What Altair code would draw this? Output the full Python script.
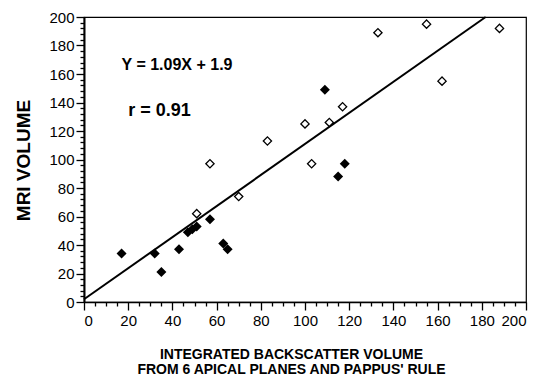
import altair as alt
import pandas as pd

# Data
open_x = [51, 57, 70, 83, 100, 103, 111, 117, 133, 155, 162, 188]
open_y = [62, 97, 74, 113, 125, 97, 126, 137, 189, 195, 155, 192]
filled_x = [17, 32, 35, 43, 47, 49, 51, 57, 63, 65, 109, 115, 118]
filled_y = [34, 34, 21, 37, 49, 51, 53, 58, 41, 37, 149, 88, 97]

slope = 1.09
intercept = 1.9
axis_max = 200

ann_text = ["Y = 1.09X + 1.9", "r = 0.91"]
ann_x = [17, 20]
ann_y = [166, 134]
ann_size = [16, 18]

x_ticks = list(range(0, 201, 5))   # labelled every 20
y_ticks = list(range(0, 201, 4))   # labelled every 20

FONT = "Liberation Sans"

df_open = pd.DataFrame({"x": open_x, "y": open_y})
df_filled = pd.DataFrame({"x": filled_x, "y": filled_y})
line_x = [0, (axis_max - intercept) / slope]
df_line = pd.DataFrame({"x": line_x, "y": [slope * v + intercept for v in line_x]})
df_ann = pd.DataFrame({"t": ann_text, "x": ann_x, "y": ann_y, "s": ann_size})

xs = alt.Scale(domain=[0, 200], nice=False, zero=False)
ys = alt.Scale(domain=[0, 200], nice=False, zero=False)

major_test = "datum.value % 20 === 0"
tick_size = {"condition": {"test": major_test, "value": 8}, "value": 4}
label_expr = "datum.value % 20 === 0 ? datum.label : ''"

main_x_axis = alt.Axis(
    values=x_ticks, tickSize=tick_size, tickWidth=1.3, tickColor="black",
    labelExpr=label_expr, labelOverlap=False,
    domainColor="black", domainWidth=1.6, labelFont=FONT, labelFontSize=15,
    labelColor="black", labelPadding=3, grid=False, orient="bottom",
    title=["INTEGRATED BACKSCATTER VOLUME", "FROM 6 APICAL PLANES  AND PAPPUS' RULE"],
    titleFont=FONT, titleFontSize=14, titleFontWeight="bold", titleColor="black",
    titleX=207, titleY=52, titleBaseline="middle", titleAlign="center",
    titleLineHeight=15,
)
main_y_axis = alt.Axis(
    values=y_ticks, tickSize=tick_size, tickWidth=1.3, tickColor="black",
    labelExpr=label_expr, labelOverlap=False,
    domainColor="black", domainWidth=2, labelFont=FONT, labelFontSize=15,
    labelColor="black", labelPadding=2, grid=False, orient="left",
    title="MRI VOLUME", titleFont=FONT, titleFontSize=19, titleFontWeight="bold",
    titleColor="black", titleAngle=270, titleX=-61, titleY=143,
    titleBaseline="middle", titleAlign="center",
)

X = alt.X("x:Q", scale=xs, axis=main_x_axis)
Y = alt.Y("y:Q", scale=ys, axis=main_y_axis)

base_line = alt.Chart(df_line).mark_line(color="black", strokeWidth=2).encode(
    x=X, y=Y,
)

filled = alt.Chart(df_filled).mark_point(
    shape="diamond", filled=True, color="black", size=100, opacity=1
).encode(x=X, y=Y)

opened = alt.Chart(df_open).mark_point(
    shape="diamond", filled=False, fill="white", fillOpacity=1, stroke="black",
    strokeWidth=1.3, size=68, opacity=1
).encode(x=X, y=Y)

ann = alt.Chart(df_ann).mark_text(
    align="left", baseline="middle", font=FONT, fontWeight="bold", color="black"
).encode(
    x=X, y=Y,
    text="t:N",
    size=alt.Size("s:Q", scale=None, legend=None),
)

chart = alt.layer(base_line, filled, opened, ann).properties(
    width=442, height=285,
    padding={"left": 84, "top": 17, "right": 11, "bottom": 83},
    autosize=alt.AutoSizeParams(type="none"),
    background="white",
).configure_view(stroke="black", strokeWidth=1.2).configure_axis(labelOverlap=False)

chart.save("out.html", embed_options={"renderer": "svg", "actions": False})
